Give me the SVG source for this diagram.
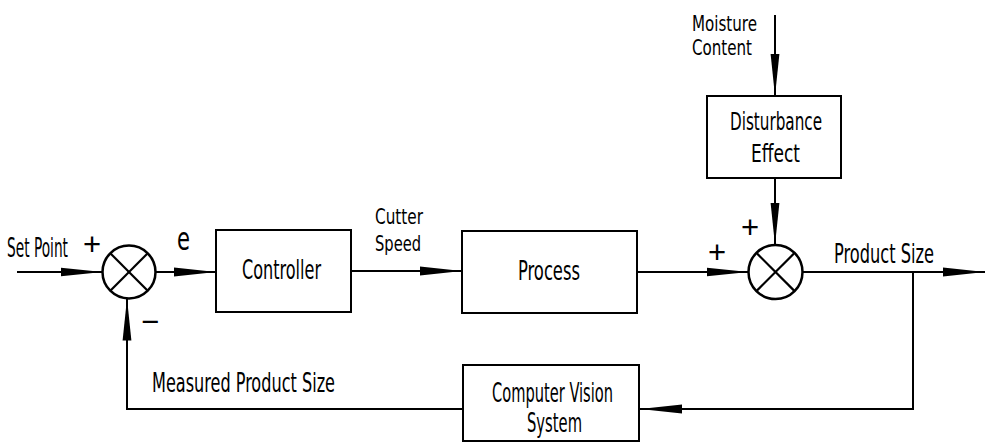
<svg xmlns="http://www.w3.org/2000/svg" width="985" height="447" viewBox="0 0 985 447">
<style>
.box{fill:#fff;stroke:#000;stroke-width:2}
.sum{fill:#fff;stroke:#000;stroke-width:2.5}
.x{stroke:#000;stroke-width:2.2}
.ln{fill:none;stroke:#000;stroke-width:2}
.arr{marker-end:url(#ah)}
text{font-family:"Liberation Sans Narrow","DejaVu Sans Condensed","Liberation Sans",sans-serif;font-size:27px;fill:#000}
.sm{font-size:22px}
.sign{font-family:"Liberation Sans",sans-serif;font-size:31px}
</style>
<defs>
<marker id="ah" viewBox="0 0 42 10" refX="42" refY="5" markerWidth="42" markerHeight="10" markerUnits="userSpaceOnUse" orient="auto">
<path d="M0,0.6 L42,5 L0,9.4 z" fill="#000"/>
</marker>
</defs>
<rect width="985" height="447" fill="#fff"/>
<g id="connectors">
<line class="ln arr" x1="17" y1="272" x2="102.5" y2="272"/>
<line class="ln arr" x1="155.5" y1="272" x2="216" y2="272"/>
<line class="ln arr" x1="351" y1="271" x2="462" y2="271"/>
<line class="ln arr" x1="637" y1="272" x2="748.5" y2="272"/>
<line class="ln arr" x1="775" y1="15" x2="775" y2="96"/>
<line class="ln arr" x1="775" y1="178" x2="775" y2="245"/>
<line class="ln arr" x1="802.5" y1="272" x2="985" y2="272"/>
<polyline class="ln arr" points="913,272 913,409 640,409"/>
<polyline class="ln arr" points="463,409 127,409 127,298.5"/>
</g>
<g id="sum1">
<circle class="sum" cx="129" cy="272" r="26.5"/>
<line class="x" x1="110.3" y1="253.3" x2="147.7" y2="290.7"/>
<line class="x" x1="147.7" y1="253.3" x2="110.3" y2="290.7"/>
<text class="sign" x="92" y="255" text-anchor="middle">+</text>
<text class="sign" x="150" y="332" text-anchor="middle">−</text>
</g>
<g id="sum2">
<circle class="sum" cx="775.5" cy="272" r="27"/>
<line class="x" x1="756.4" y1="252.9" x2="794.6" y2="291.1"/>
<line class="x" x1="794.6" y1="252.9" x2="756.4" y2="291.1"/>
<text class="sign" x="717" y="263" text-anchor="middle">+</text>
<text class="sign" x="750" y="238" text-anchor="middle">+</text>
</g>
<g id="controller">
<rect class="box" x="216" y="230" width="135" height="82"/>
<text x="242" y="279" textLength="79" lengthAdjust="spacingAndGlyphs">Controller</text>
</g>
<g id="process">
<rect class="box" x="462" y="231" width="175" height="82"/>
<text x="518" y="280" textLength="62" lengthAdjust="spacingAndGlyphs">Process</text>
</g>
<g id="disturbance">
<rect class="box" x="707" y="96" width="134" height="82"/>
<text x="730" y="130" textLength="92" lengthAdjust="spacingAndGlyphs" style="font-size:24px">Disturbance</text>
<text x="751" y="162" textLength="49" lengthAdjust="spacingAndGlyphs" style="font-size:24px">Effect</text>
</g>
<g id="vision">
<rect class="box" x="463" y="365" width="176" height="76"/>
<text x="492" y="402" textLength="121" lengthAdjust="spacingAndGlyphs">Computer Vision</text>
<text x="527" y="432" textLength="55" lengthAdjust="spacingAndGlyphs">System</text>
</g>
<g id="labels">
<text x="7" y="257" textLength="61" lengthAdjust="spacingAndGlyphs">Set Point</text>
<text x="177" y="250" textLength="13" lengthAdjust="spacingAndGlyphs" style="font-size:32px">e</text>
<text class="sm" x="375" y="224" textLength="48" lengthAdjust="spacingAndGlyphs">Cutter</text>
<text class="sm" x="375" y="251" textLength="46" lengthAdjust="spacingAndGlyphs">Speed</text>
<text class="sm" x="692" y="31" textLength="65" lengthAdjust="spacingAndGlyphs">Moisture</text>
<text class="sm" x="692" y="55" textLength="60" lengthAdjust="spacingAndGlyphs">Content</text>
<text x="834" y="263" textLength="100" lengthAdjust="spacingAndGlyphs">Product Size</text>
<text x="152" y="392" textLength="183" lengthAdjust="spacingAndGlyphs">Measured Product Size</text>
</g>
</svg>
